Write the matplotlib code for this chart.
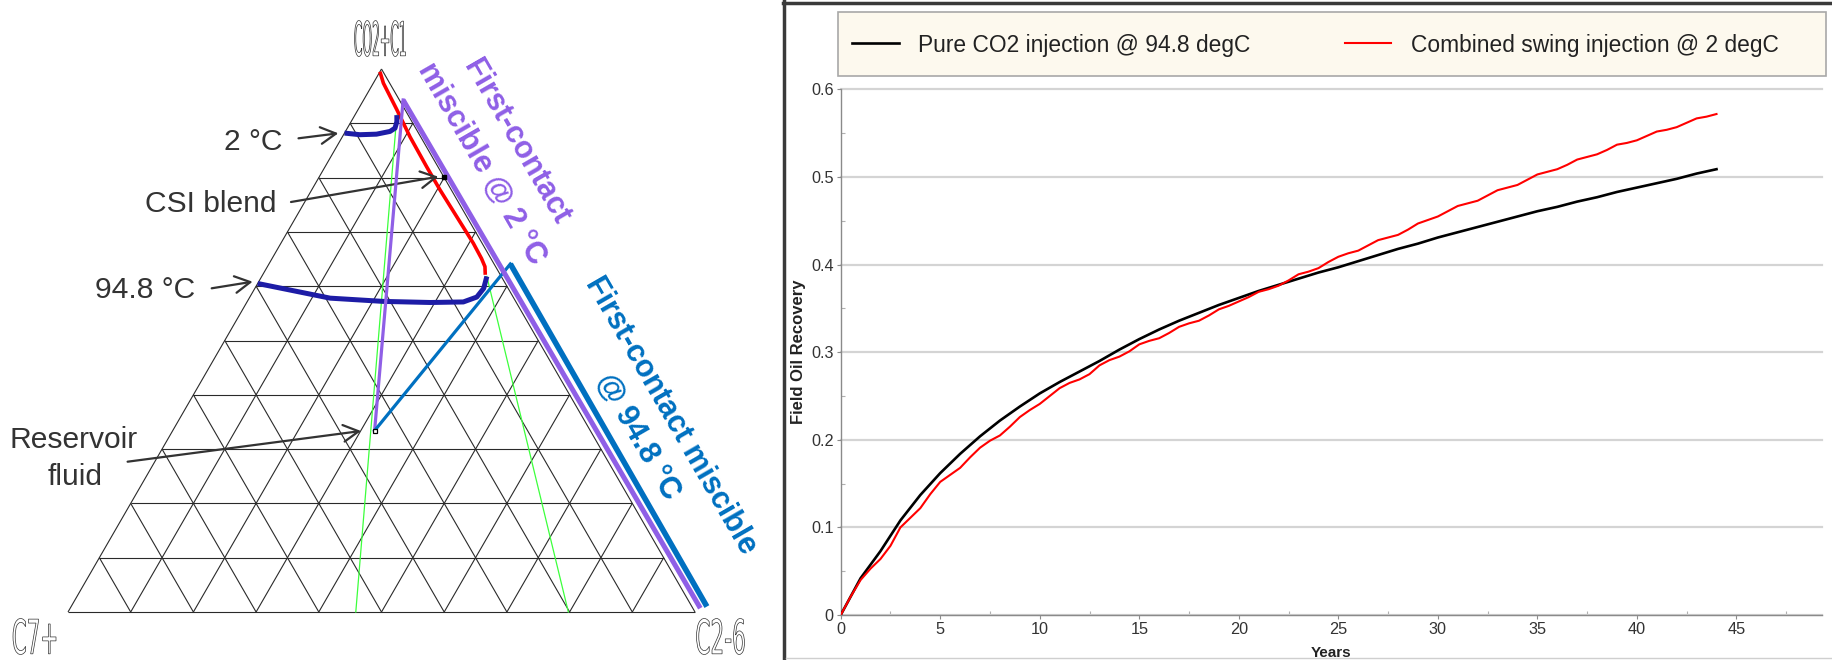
import numpy as np
import matplotlib
matplotlib.use("Agg")
import matplotlib.pyplot as plt
from matplotlib.patches import Rectangle, PathPatch
from matplotlib.lines import Line2D
from matplotlib.textpath import TextPath
from matplotlib.font_manager import FontProperties
from matplotlib.transforms import Affine2D
from matplotlib.ticker import MultipleLocator, FuncFormatter

# ---------------- ternary diagram data (CO2+C1 fraction, C2-6 fraction) ----------------
apex_labels = ["CO2+C1", "C7+", "C2-6"]

csi_path_co2c1 = [0.995, 0.974, 0.925, 0.875, 0.820, 0.777, 0.728, 0.679, 0.651, 0.636, 0.621]
csi_path_c26 = [0.000, 0.016, 0.062, 0.108, 0.162, 0.205, 0.256, 0.307, 0.334, 0.347, 0.355]

env_2c_co2c1 = [0.882, 0.879, 0.880, 0.885, 0.891, 0.903, 0.915]
env_2c_c26 = [0.000, 0.026, 0.052, 0.071, 0.076, 0.073, 0.067]

env_948_co2c1 = [0.605, 0.587, 0.578, 0.572, 0.570, 0.571, 0.580, 0.596, 0.618]
env_948_c26 = [0.000, 0.086, 0.129, 0.217, 0.293, 0.345, 0.362, 0.365, 0.359]

reservoir_fluid = (0.334, 0.322)
csi_blend = (0.802, 0.198)

fcm_2c_co2c1 = [0.943, 0.007]
fcm_2c_c26 = [0.063, 1.005]
fcm_948_co2c1 = [0.641, 0.010]
fcm_948_c26 = [0.385, 1.014]

tie_left_co2c1 = [0.915, 0.0]
tie_left_c26 = [0.067, 0.459]
tie_right_co2c1 = [0.618, 0.0]
tie_right_c26 = [0.359, 0.798]

# ---------------- recovery curves ----------------
series_labels = ["Pure CO2 injection @ 94.8 degC", "Combined swing injection @ 2 degC"]
pure_years = np.arange(0, 45, 1.0)
pure_co2 = [0.000, 0.042, 0.073, 0.108, 0.137, 0.162, 0.184, 0.204, 0.222, 0.238,
            0.253, 0.266, 0.278, 0.290, 0.303, 0.315, 0.326, 0.336, 0.345, 0.354,
            0.362, 0.370, 0.377, 0.384, 0.391, 0.397, 0.404, 0.411, 0.418, 0.424,
            0.431, 0.437, 0.443, 0.449, 0.455, 0.461, 0.466, 0.472, 0.477, 0.483,
            0.488, 0.493, 0.498, 0.504, 0.509]
swing_years = np.arange(0, 44.5, 0.5)
swing = [0.000, 0.021, 0.040, 0.053, 0.064, 0.079, 0.100, 0.111, 0.122, 0.138,
         0.152, 0.160, 0.168, 0.180, 0.191, 0.199, 0.205, 0.215, 0.226, 0.234,
         0.241, 0.250, 0.259, 0.265, 0.269, 0.275, 0.285, 0.291, 0.295, 0.301,
         0.309, 0.313, 0.316, 0.322, 0.329, 0.333, 0.336, 0.342, 0.349, 0.353,
         0.358, 0.363, 0.369, 0.372, 0.376, 0.382, 0.389, 0.392, 0.396, 0.403,
         0.409, 0.413, 0.416, 0.422, 0.428, 0.431, 0.434, 0.440, 0.447, 0.451,
         0.455, 0.461, 0.467, 0.470, 0.473, 0.479, 0.485, 0.488, 0.491, 0.497,
         0.503, 0.506, 0.509, 0.514, 0.520, 0.523, 0.526, 0.531, 0.537, 0.539,
         0.542, 0.547, 0.552, 0.554, 0.557, 0.562, 0.567, 0.569, 0.572]

W, H = 1833, 660
fig = plt.figure(figsize=(W / 100, H / 100), dpi=100)
fig.patch.set_facecolor("white")

SANS = ["Liberation Sans", "DejaVu Sans"]
PURPLE = "#8f5fe6"
BLUE = "#0070c0"
NAVY = "#1d1ca6"
GREEN = "#3cff3c"
DARK = "#333333"


def fx(x):
    return x / W


def fy(y):
    return 1 - y / H


SQ3 = np.sqrt(3) / 2


def tern(co2c1, c26):
    a = np.asarray(co2c1, float)
    c = np.asarray(c26, float)
    return c + a / 2, a * SQ3


# ---------------- ternary panel ----------------
S = 627.0
ax_t = fig.add_axes([0, 0, 780 / W, 1])
ax_t.set_xlim(-68 / S, (780 - 68) / S)
ax_t.set_ylim(-48 / S, 612 / S)
ax_t.axis("off")

grid_kw = dict(color="#2a2a2a", lw=0.8, solid_capstyle="butt", zorder=1)
for k in range(10):
    f = k / 10
    ax_t.plot(*tern([f, f], [0, 1 - f]), **grid_kw)          # constant CO2+C1
    ax_t.plot(*tern([0, 1 - f], [f, f]), **grid_kw)          # constant C2-6
    ax_t.plot(*tern([1 - f, 0], [0, 1 - f]), **grid_kw)      # constant C7+

# limiting tie lines
ax_t.plot(*tern(tie_left_co2c1, tie_left_c26), color=GREEN, lw=0.9, zorder=2)
ax_t.plot(*tern(tie_right_co2c1, tie_right_c26), color=GREEN, lw=0.9, zorder=2)

# CSI blend dilution path and phase envelopes
ax_t.plot(*tern(csi_path_co2c1, csi_path_c26), color="#ff0000", lw=2.6, zorder=3,
          solid_capstyle="butt")
ax_t.plot(*tern(env_2c_co2c1, env_2c_c26), color=NAVY, lw=3.6, zorder=4,
          solid_capstyle="butt")
ax_t.plot(*tern(env_948_co2c1, env_948_c26), color=NAVY, lw=3.6, zorder=4,
          solid_capstyle="butt")

# first-contact miscibility lines
ax_t.plot(*tern([fcm_2c_co2c1[0], reservoir_fluid[0]], [fcm_2c_c26[0], reservoir_fluid[1]]),
          color=PURPLE, lw=2.3, zorder=5)
ax_t.plot(*tern([fcm_948_co2c1[0], reservoir_fluid[0]], [fcm_948_c26[0], reservoir_fluid[1]]),
          color=BLUE, lw=2.3, zorder=5)
ax_t.plot(*tern(fcm_2c_co2c1, fcm_2c_c26), color=PURPLE, lw=3.6, zorder=5,
          solid_capstyle="butt")
ax_t.plot(*tern(fcm_948_co2c1, fcm_948_c26), color=BLUE, lw=4.0, zorder=5,
          solid_capstyle="butt", solid_joinstyle="miter")

# composition markers
ax_t.plot(*tern([reservoir_fluid[0]], [reservoir_fluid[1]]), marker="s", ms=3.5,
          mfc="white", mec="black", mew=0.9, ls="none", zorder=6)
ax_t.plot(*tern([csi_blend[0]], [csi_blend[1]]), marker="s", ms=3.2,
          mfc="black", mec="black", ls="none", zorder=6)


# corner labels drawn as outlined condensed glyphs
def outline_label(s, cx, cy, w, h):
    tp = TextPath((0, 0), s, size=20, prop=FontProperties(family="DejaVu Sans"))
    ext = tp.get_extents()
    tr = (Affine2D()
          .translate(-ext.x0 - ext.width / 2, -ext.y0 - ext.height / 2)
          .scale(w / ext.width, h / ext.height)
          .translate(cx, H - cy)
          .scale(1 / W, 1 / H))
    patch = PathPatch(tr.transform_path(tp), fc="white", ec="#333333", lw=0.5,
                      transform=fig.transFigure)
    fig.add_artist(patch)


outline_label(apex_labels[0], 380, 38.5, 51, 36)
outline_label(apex_labels[1], 34.5, 636.5, 43, 36)
outline_label(apex_labels[2], 720.5, 636.5, 48, 36)

# annotations
ann_font = dict(family=SANS, size=21.6, color=DARK)
fig.text(fx(253), fy(150), "2 °C", ha="center", va="baseline", **ann_font)
fig.text(fx(210.5), fy(212), "CSI blend", ha="center", va="baseline", **ann_font)
fig.text(fx(145), fy(298), "94.8 °C", ha="center", va="baseline", **ann_font)
fig.text(fx(74), fy(448), "Reservoir", ha="center", va="baseline", **ann_font)
fig.text(fx(75), fy(485), "fluid", ha="center", va="baseline", **ann_font)

arrow_kw = dict(arrowstyle="->,head_length=0.55,head_width=0.3", color=DARK, lw=1.6,
                mutation_scale=20, shrinkA=0, shrinkB=0)
for tail, tip in [((298.5, 138.3), (338.3, 133.3)),
                  ((291, 202), (438.3, 176.7)),
                  ((211.7, 288.3), (252.6, 281.7)),
                  ((127.6, 461.7), (361, 431))]:
    ax_t.annotate("", xy=(tip[0], H - tip[1]), xycoords="figure pixels",
                  xytext=(tail[0], H - tail[1]), textcoords="figure pixels",
                  arrowprops=arrow_kw, annotation_clip=False)

rot_font = dict(family=SANS, size=22, weight="bold", rotation=-60,
                rotation_mode="anchor", ha="center", va="center")
fig.text(fx(515.9), fy(141.7), "First-contact", color=PURPLE, **rot_font)
fig.text(fx(482), fy(164.2), "miscible @ 2 °C", color=PURPLE, **rot_font)
fig.text(fx(670.7), fy(415.8), "First-contact miscible", color=BLUE, **rot_font)
fig.text(fx(637.5), fy(436.7), "@ 94.8 °C", color=BLUE, **rot_font)

# ---------------- recovery panel ----------------
fig.add_artist(Line2D([fx(784.5)] * 2, [0, 1], transform=fig.transFigure,
                      color="#3a3a3a", lw=2.5))
fig.add_artist(Line2D([fx(783), 1], [fy(2.5)] * 2, transform=fig.transFigure,
                      color="#3a3a3a", lw=2.5))
fig.add_artist(Line2D([fx(786), 1], [fy(658)] * 2, transform=fig.transFigure,
                      color="#cfcfcf", lw=1.0))

ax = fig.add_axes([840.7 / W, 45 / H, (1822 - 840.7) / W, (615 - 89.5) / H])
black_line, = ax.plot(pure_years, pure_co2, color="black", lw=1.9, zorder=4)
red_line, = ax.plot(swing_years, swing, color="#ff0000", lw=1.5, zorder=5)

ax.set_xlim(0, 49.3)
ax.set_ylim(0, 0.6)
ax.xaxis.set_major_locator(MultipleLocator(5))
ax.xaxis.set_minor_locator(MultipleLocator(2.5))
ax.yaxis.set_major_locator(MultipleLocator(0.1))
ax.yaxis.set_minor_locator(MultipleLocator(0.05))
ax.yaxis.set_major_formatter(FuncFormatter(lambda v, p: f"{v:g}"))
ax.xaxis.set_major_formatter(FuncFormatter(lambda v, p: f"{v:g}"))
for s in ("top", "right"):
    ax.spines[s].set_visible(False)
for s in ("left", "bottom"):
    ax.spines[s].set_color("#8a8a8a")
    ax.spines[s].set_linewidth(1.0)
ax.grid(axis="y", color="#d4d4d4", lw=1.6, zorder=0)
for gl in ax.get_ygridlines():
    gl.set_clip_on(False)
ax.tick_params(which="major", length=3, width=0.8, color="#8a8a8a", labelsize=11.7,
               labelcolor=DARK, pad=2)
ax.tick_params(which="minor", length=3, width=0.8, direction="in", color="#b0b0b0")
for lab in ax.get_xticklabels() + ax.get_yticklabels():
    lab.set_family(SANS)

ax.set_xlabel("Years", family=SANS, weight="bold", size=11, color="#222222")
ax.xaxis.set_label_coords(0.5, -0.059)
ax.set_ylabel("Field Oil Recovery", family=SANS, weight="bold", size=12,
              color="#222222", va="center")
ax.yaxis.set_label_coords(-0.0425, 0.5)

# legend panel
fig.add_artist(Rectangle((fx(838), fy(76)), fx(1826) - fx(838), (76 - 12) / H,
                         transform=fig.transFigure, fc="#fdf9ee", ec="#a8a8a8", lw=1.2))
leg_font = dict(family=SANS, size=16.4, color="#222222", va="baseline", ha="left")
for line, label, x0, x1, xt in [(black_line, series_labels[0], 852, 899, 918),
                                (red_line, series_labels[1], 1345, 1391, 1411)]:
    fig.add_artist(Line2D([fx(x0), fx(x1)], [fy(43.3)] * 2, transform=fig.transFigure,
                          color=line.get_color(), lw=line.get_linewidth()))
    fig.text(fx(xt), fy(52.0), label, **leg_font)

fig.savefig("out.png", dpi=100, facecolor="white")
